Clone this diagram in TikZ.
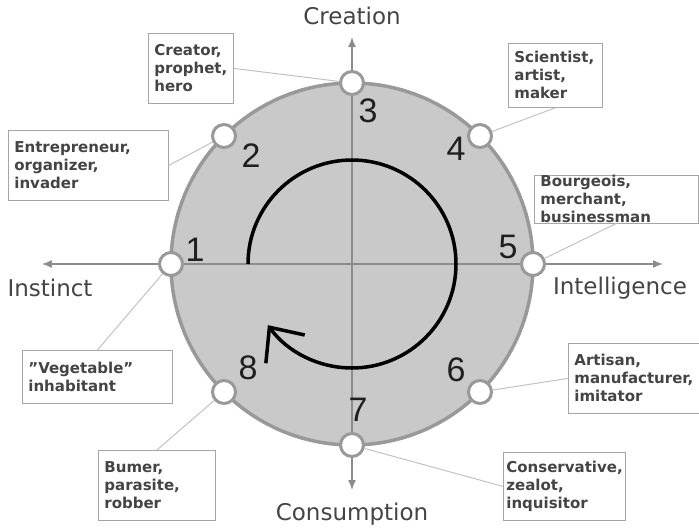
\documentclass[tikz,border=0pt]{standalone}
\usepackage{fontspec}
\setmainfont{DejaVu Sans}
\newfontfamily\numfont{Liberation Sans}
\usetikzlibrary{arrows.meta}
\definecolor{discgray}{HTML}{C9C9C9}
\definecolor{rimgray}{HTML}{999999}
\definecolor{axisgray}{HTML}{8C8C8C}
\definecolor{boxgray}{HTML}{A6A6A6}
\definecolor{linkgray}{HTML}{C2C2C2}
\definecolor{textgray}{HTML}{444444}
\tikzset{
  dot/.style={circle, draw=rimgray, fill=white, line width=3pt, minimum size=23pt, inner sep=0pt},
  role/.style={draw=boxgray, fill=white, line width=.8pt, align=left, anchor=north west,
    inner xsep=6pt, inner ysep=2pt, text=textgray, font=\fontsize{15}{18}\selectfont\bfseries},
  axis/.style={draw=axisgray, line width=1.4pt, {Latex[length=10pt,width=8pt]}-{Latex[length=10pt,width=8pt]}},
  link/.style={draw=linkgray, line width=1pt},
  digit/.style={font=\numfont\fontsize{34}{34}\selectfont, text=black!88},
  axlabel/.style={font=\fontsize{23}{23}\selectfont, text=textgray}
}
\begin{document}
\begin{tikzpicture}[x=1pt, y=1pt]
  \useasboundingbox (-352,-264) rectangle (347,264);
  \filldraw[fill=discgray, draw=rimgray, line width=3.5pt] (0,0) circle (181pt);
  \coordinate (W) at (-310,0);
  \coordinate (E) at (311,0);
  \coordinate (S) at (0,-226);
  \coordinate (N) at (0,227);
  \draw[axis] (W) -- (E);
  \draw[axis] (S) -- (N);
  % the cycle
  \draw[line width=3.5pt, -{Straight Barb[length=27pt,width=48pt]}] (180:104) arc (180:-144:104pt);
  \foreach \i/\a in {1/180, 2/135, 3/90, 4/45, 5/0, 6/-45, 7/-90, 8/-135}
    \node[dot] (d\i) at (\a:181) {};
  \foreach \i/\x/\y in {1/-157/14, 2/-101/108, 3/16/153, 4/104/115, 5/156/17, 6/104/-106, 7/6/-146, 8/-104/-104}
    \node[digit] (n\i) at (\x,\y) {\i};
  \node[axlabel] (cre) at (0,248) {Creation};
  \node[axlabel] (con) at (0,-250) {Consumption};
  \node[axlabel] (ins) at (-302,-24) {Instinct};
  \node[axlabel] (int) at (268,-24) {Intelligence};
  % roles
  \node[role, text width=73pt, minimum height=70pt] (r3) at (-204,231) {Creator,\\prophet,\\hero};
  \node[role, text width=148pt, minimum height=70pt] (r2) at (-344,134) {Entrepreneur,\\organizer,\\invader};
  \node[role, text width=138pt, minimum height=53pt] (r1) at (-330,-86) {\symbol{34}Vegetable\symbol{34}\\inhabitant};
  \node[role, text width=105pt, minimum height=70pt] (r8) at (-254,-186) {Bumer,\\parasite,\\robber};
  \node[role, text width=82pt, minimum height=64pt] (r4) at (156,221) {Scientist,\\artist,\\maker};
  \node[role, text width=152pt, minimum height=46pt, inner ysep=0pt] (r5) at (182,89) {Bourgeois,\\merchant,\\businessman};
  \node[role, text width=121pt, minimum height=70pt] (r6) at (216,-79) {Artisan,\\manufacturer,\\imitator};
  \node[role, text width=116pt, minimum height=68pt, inner xsep=3pt] (r7) at (151,-188) {Conservative,\\zealot,\\inquisitor};
  \foreach \r/\s in {3/east, 2/east, 4/south, 5/south, 1/north, 8/north, 6/west, 7/west}
    \draw[link] (r\r.\s) -- (d\r);
\end{tikzpicture}
\end{document}
